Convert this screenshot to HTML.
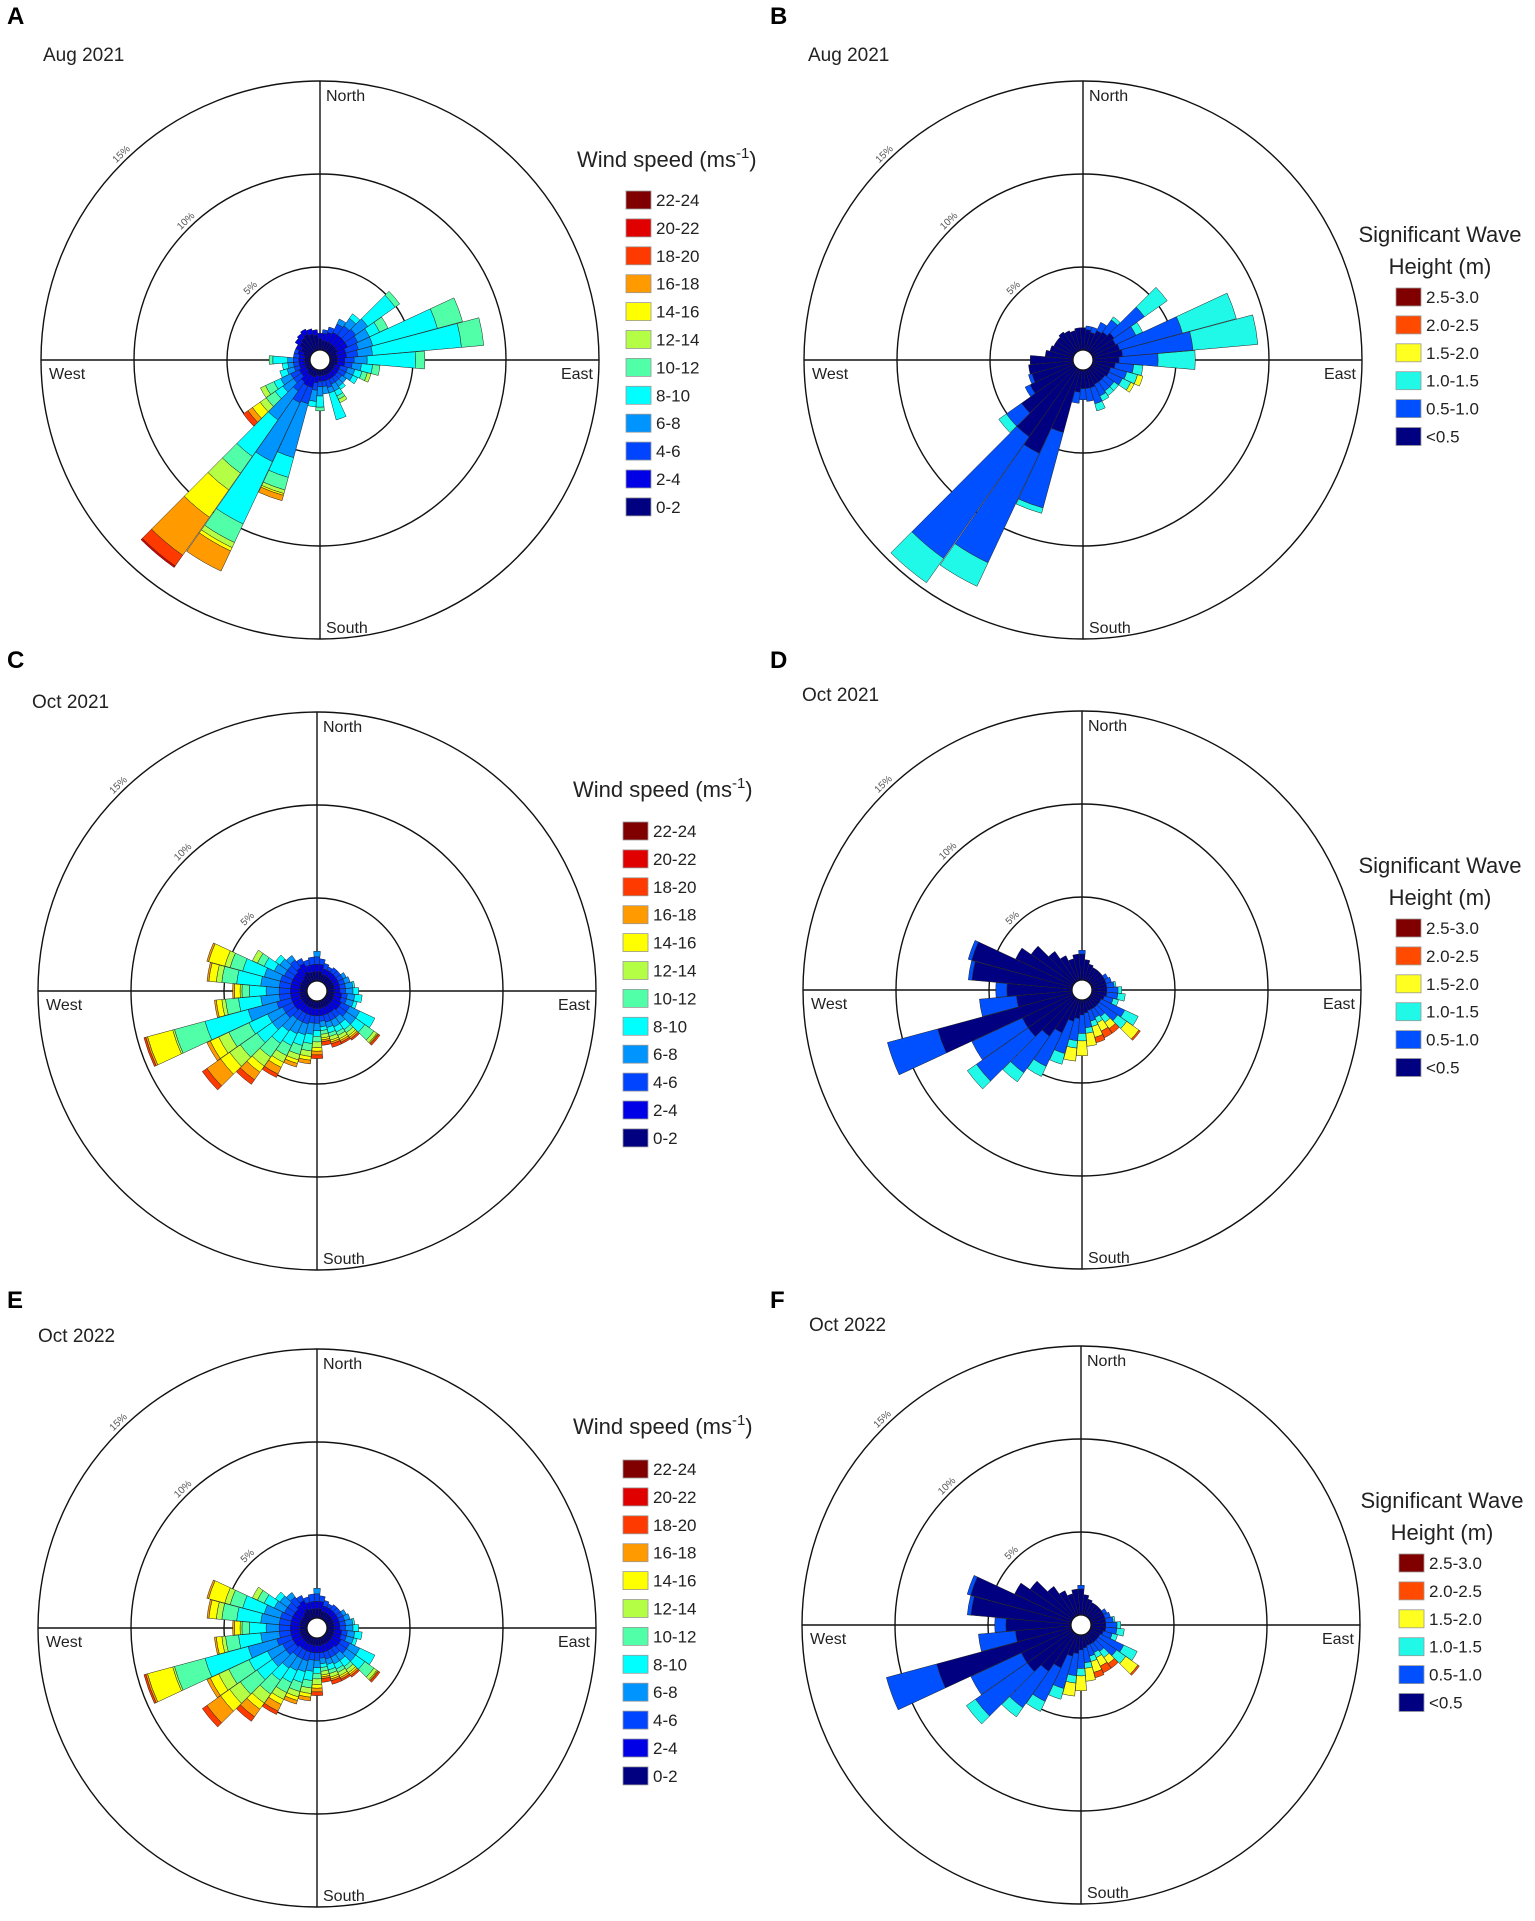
<!DOCTYPE html>
<html><head><meta charset="utf-8"><style>
html,body{margin:0;padding:0;background:#fff}
svg{display:block;font-family:"Liberation Sans",sans-serif}
</style></head><body>
<svg id="fig" width="1535" height="1921" viewBox="0 0 1535 1921" xmlns="http://www.w3.org/2000/svg"></svg>
<script>
const dirs = [0,10,20,30,40,50,60,70,80,90,100,110,120,130,140,150,160,170,180,190,200,210,220,230,240,250,260,270,280,290,300,310,320,330,340,350];
const windClasses = ["0-2","2-4","4-6","6-8","8-10","10-12","12-14","14-16","16-18","18-20","20-22","22-24"];
const windColors = ["#000080","#0000e6","#0044ff","#0094ff","#00ffff","#50ffa8","#b4ff46","#ffff00","#ff9a00","#ff3a00","#e00000","#800000"];
const waveClasses = ["<0.5","0.5-1.0","1.0-1.5","1.5-2.0","2.0-2.5","2.5-3.0"];
const waveColors = ["#000080","#0050ff","#20f8e8","#ffff20","#ff4a00","#800000"];
const ringTicks = [5,10,15];
const ringLabels = ["5%","10%","15%"];

const windA = [[0.6,0.3],[0.5,0.4,0.2],[0.5,0.5,0.3],[0.5,0.6,0.5,0.3],[0.5,0.6,0.6,0.5,0.3],[0.5,0.6,0.7,0.8,1.8,0.3],[0.5,0.6,0.6,0.7,0.6,0.5],[0.4,0.5,0.7,0.8,3.6,1.4],[0.4,0.5,0.6,0.8,4.8,1.2],[0.4,0.4,0.5,0.7,2.6,0.5],[0.4,0.4,0.4,0.5,0.6,0.4],[0.3,0.3,0.4,0.4,0.4,0.3,0.2],[0.3,0.3,0.4,0.4,0.3],[0.3,0.3,0.3,0.3],[0.3,0.3,0.3,0.3,0.2],[0.3,0.3,0.3,0.4,0.3,0.2,0.2],[0.3,0.3,0.4,0.3,1.5],[0.3,0.3,0.3,0.4],[0.3,0.3,0.3,0.5,0.6,0.2],[0.3,0.4,0.4,0.6,0.3],[0.4,0.6,0.9,3.0,1.1,0.7,0.2,0.1,0.3],[0.4,0.6,1.0,3.5,3.7,1.1,0.3,0.2,1.2],[0.4,0.5,0.6,1.9,2.4,1.1,1.1,1.8,2.5,0.7,0.1],[0.3,0.4,0.5,0.7,0.5,0.6,0.4,0.5,0.3,0.3],[0.3,0.4,0.5,0.6,0.4,0.5,0.3],[0.3,0.3,0.3,0.4,0.4],[0.3,0.3,0.3,0.3,0.3],[0.3,0.3,0.3,0.3,0.8,0.2],[0.3,0.3,0.3],[0.4,0.3,0.2],[0.6,0.3],[0.8,0.3],[0.9,0.3],[1.0,0.3],[0.9,0.3],[0.8,0.3]];
const waveB = [[1.2],[1.1,0.2],[1.0,0.3],[1.2,0.5],[1.3,0.8,0.2],[1.5,2.0,1.5],[1.4,1.2,0.4],[1.5,3.5,3.0],[1.6,3.8,3.5],[1.4,2.1,2.0],[1.2,1.0,0.5],[1.0,0.9,0.6,0.3],[1.0,0.8,0.5,0.2],[0.9,0.6,0.3],[0.9,0.6,0.3],[0.9,0.7,0.3],[1.0,0.9,0.4],[1.0,0.7],[1.0,0.6],[1.2,0.6],[3.5,4.2,0.3],[5.0,6.5,1.4],[4.5,8.0,1.6],[3.5,1.0,0.5],[2.6,0.3],[2.3,0.2],[2.4],[2.3],[1.5],[1.3],[1.2],[1.2],[1.3],[1.2],[1.1],[1.2]];
const windC = [[0.5,0.4,0.4,0.3],[0.5,0.4,0.3],[0.4,0.3,0.3],[0.4,0.3,0.2],[0.4,0.3,0.3],[0.4,0.3,0.3],[0.4,0.3,0.3,0.2],[0.4,0.3,0.3,0.3],[0.4,0.3,0.3,0.4,0.1],[0.4,0.3,0.3,0.4,0.3],[0.4,0.4,0.3,0.4,0.4],[0.4,0.4,0.3,0.4,0.2],[0.4,0.5,0.5,0.6,0.9],[0.4,0.5,0.5,0.6,0.6,0.6,0.2,0.05,0.05,0.1],[0.4,0.4,0.4,0.4,0.4,0.2,0.2,0.1,0.1,0.1],[0.4,0.4,0.4,0.4,0.3,0.2,0.2,0.1,0.1,0.1],[0.4,0.4,0.4,0.3,0.3,0.2,0.2,0.1,0.1,0.2],[0.4,0.4,0.3,0.3,0.2,0.2,0.2,0.1,0.1,0.2],[0.4,0.4,0.4,0.4,0.3,0.3,0.3,0.2,0.2,0.2],[0.4,0.4,0.4,0.6,0.5,0.4,0.3,0.2,0.2],[0.4,0.4,0.5,0.6,0.6,0.5,0.3,0.2,0.2],[0.4,0.4,0.5,0.7,0.7,0.6,0.4,0.3,0.4,0.2],[0.4,0.4,0.5,0.8,0.8,0.9,0.6,0.4,0.5,0.3],[0.4,0.5,0.6,0.9,1.0,1.1,0.7,0.6,0.9,0.3],[0.4,0.5,0.6,0.9,1.1,1.2,0.6,0.5,0.2],[0.4,0.5,0.8,1.6,2.4,1.7,0.1,1.4,0.1,0.1],[0.4,0.5,0.6,1.0,1.2,0.7,0.2,0.3,0.1],[0.4,0.5,0.6,0.7,0.9,0.4,0.1,0.3,0.1],[0.4,0.5,0.6,1.0,1.3,0.8,0.3,0.4,0.1],[0.4,0.5,0.6,0.9,1.2,0.7,0.3,0.9,0.1],[0.4,0.5,0.5,0.6,0.6,0.4,0.3],[0.4,0.5,0.5,0.5,0.3],[0.5,0.5,0.5,0.3],[0.6,0.5,0.3],[0.5,0.4,0.3],[0.5,0.4,0.4]];
const waveD = [[1.4,0.2],[1.1],[0.9],[0.8],[0.8],[0.8],[0.8,0.2],[0.8,0.3],[0.8,0.4,0.1],[0.8,0.6,0.2],[0.8,0.6,0.4],[0.7,0.5,0.3],[0.6,1.4,0.8],[0.6,1.2,0.6,0.8,0.1],[0.6,0.6,0.4,0.4,0.3],[0.6,0.5,0.3,0.5,0.4],[0.6,0.6,0.3,0.6,0.3],[0.7,0.8,0.3,0.7],[0.8,1.0,0.4,0.8],[1.0,1.2,0.4,0.7],[1.2,1.8,0.6],[2.0,2.0,0.6],[2.5,2.4,0.6],[3.0,3.4,0.6],[3.0,3.0],[7.5,2.8],[3.0,2.0],[3.5,0.6],[5.4,0.2],[5.6,0.2],[3.4],[2.8],[2.0],[1.5],[1.2],[1.4]];
const windE = [[0.5,0.4,0.4,0.3],[0.5,0.4,0.3],[0.4,0.3,0.3],[0.4,0.3,0.2],[0.4,0.3,0.3],[0.4,0.3,0.3],[0.4,0.3,0.3,0.2],[0.4,0.3,0.3,0.3],[0.4,0.3,0.3,0.4,0.1],[0.4,0.3,0.3,0.4,0.3],[0.4,0.4,0.3,0.4,0.4],[0.4,0.4,0.3,0.4,0.2],[0.4,0.5,0.5,0.6,0.9],[0.4,0.5,0.5,0.6,0.6,0.6,0.2,0.05,0.05,0.1],[0.4,0.4,0.4,0.4,0.4,0.2,0.2,0.1,0.1,0.1],[0.4,0.4,0.4,0.4,0.3,0.2,0.2,0.1,0.1,0.1],[0.4,0.4,0.4,0.3,0.3,0.2,0.2,0.1,0.1,0.2],[0.4,0.4,0.3,0.3,0.2,0.2,0.2,0.1,0.1,0.2],[0.4,0.4,0.4,0.4,0.3,0.3,0.3,0.2,0.2,0.2],[0.4,0.4,0.4,0.6,0.5,0.4,0.3,0.2,0.2],[0.4,0.4,0.5,0.6,0.6,0.5,0.3,0.2,0.2],[0.4,0.4,0.5,0.7,0.7,0.6,0.4,0.3,0.4,0.2],[0.4,0.4,0.5,0.8,0.8,0.9,0.6,0.4,0.5,0.3],[0.4,0.5,0.6,0.9,1.0,1.1,0.7,0.6,0.9,0.3],[0.4,0.5,0.6,0.9,1.1,1.2,0.6,0.5,0.2],[0.4,0.5,0.8,1.6,2.4,1.7,0.1,1.4,0.1,0.1],[0.4,0.5,0.6,1.0,1.2,0.7,0.2,0.3,0.1],[0.4,0.5,0.6,0.7,0.9,0.4,0.1,0.3,0.1],[0.4,0.5,0.6,1.0,1.3,0.8,0.3,0.4,0.1],[0.4,0.5,0.6,0.9,1.2,0.7,0.3,0.9,0.1],[0.4,0.5,0.5,0.6,0.6,0.4,0.3],[0.4,0.5,0.5,0.5,0.3],[0.5,0.5,0.5,0.3],[0.6,0.5,0.3],[0.5,0.4,0.3],[0.5,0.4,0.4]];
const waveF = [[1.4,0.2],[1.1],[0.9],[0.8],[0.8],[0.8],[0.8,0.2],[0.8,0.3],[0.8,0.4,0.1],[0.8,0.6,0.2],[0.8,0.6,0.4],[0.7,0.5,0.3],[0.6,1.4,0.8],[0.6,1.2,0.6,0.8,0.1],[0.6,0.6,0.4,0.4,0.3],[0.6,0.5,0.3,0.5,0.4],[0.6,0.6,0.3,0.6,0.3],[0.7,0.8,0.3,0.7],[0.8,1.0,0.4,0.8],[1.0,1.2,0.4,0.7],[1.2,1.8,0.6],[2.0,2.0,0.6],[2.5,2.4,0.6],[3.0,3.4,0.6],[3.0,3.0],[7.5,2.8],[3.0,2.0],[3.5,0.6],[5.4,0.2],[5.6,0.2],[3.4],[2.8],[2.0],[1.5],[1.2],[1.4]];

const NS="http://www.w3.org/2000/svg";
const svg=document.getElementById('fig');
function mk(tag,attrs,parent){const e=document.createElementNS(NS,tag);for(const k in attrs)e.setAttribute(k,attrs[k]);(parent||svg).appendChild(e);return e;}
const PX=18.6, HOLE=10, R=279;
function rScale(p){return HOLE+p*PX;}
function ringR(t){return t*PX;}
function pt(cx,cy,r,deg){const a=deg*Math.PI/180;return [cx+r*Math.sin(a),cy-r*Math.cos(a)];}
function sector(cx,cy,r0,r1,d){const a0=d-4.9,a1=d+4.9;const p1=pt(cx,cy,r0,a0),p2=pt(cx,cy,r1,a0),p3=pt(cx,cy,r1,a1),p4=pt(cx,cy,r0,a1);
return `M${p1[0]},${p1[1]}L${p2[0]},${p2[1]}A${r1},${r1} 0 0 1 ${p3[0]},${p3[1]}L${p4[0]},${p4[1]}A${r0},${r0} 0 0 0 ${p1[0]},${p1[1]}Z`;}

function drawPanel(p){
  const g=mk('g',{});
  
  
  const lt=mk('text',{x:p.lx,y:p.ly,'font-size':24,'font-weight':'bold'},g);
  lt.textContent=p.letter;
  
  
  const tt=mk('text',{x:p.tx,y:p.ty,'font-size':19,fill:'#222'},g);tt.textContent=p.title;
  
  
  const cx=p.cx,cy=p.cy;
  ringTicks.forEach((t,i)=>{
    const rr=ringR(t);
    const c=mk('circle',{cx:cx,cy:cy,r:rr,fill:'none',stroke:'#111','stroke-width':1.4},g);
    
    
    const q=pt(cx,cy,rr+4,-44);
    const lb=mk('text',{x:q[0],y:q[1],'font-size':10,fill:'#555','text-anchor':'middle',transform:`rotate(-44 ${q[0]} ${q[1]})`},g);lb.textContent=ringLabels[i];
    
    
  });
  const l1=mk('line',{x1:cx,y1:cy-R,x2:cx,y2:cy+R,stroke:'#111','stroke-width':1.4},g);
  
  const l2=mk('line',{x1:cx-R,y1:cy,x2:cx+R,y2:cy,stroke:'#111','stroke-width':1.4},g);
  
  const labs=[["North",cx+6,cy-R+20,'start'],["South",cx+6,cy+R-6,'start'],["West",cx-R+8,cy+19,'start'],["East",cx+R-6,cy+19,'end']];
  labs.forEach(L=>{const t=mk('text',{x:L[1],y:L[2],'font-size':16,fill:'#222','text-anchor':L[3]},g);t.textContent=L[0];
    });
  p.data.forEach((segs,i)=>{
    let cum=0;
    segs.forEach((v,k)=>{
      const path=mk('path',{d:sector(cx,cy,rScale(cum),rScale(cum+v),dirs[i]),fill:p.colors[k],stroke:'#222','stroke-width':0.5},g);
      
      
      cum+=v;
    });
  });
  const hole=mk('circle',{cx:cx,cy:cy,r:HOLE,fill:'#fff',stroke:'#111','stroke-width':1.2},g);
  
  const lg=mk('g',{},g);
  
  if(p.kind==='wind'){
    const t=mk('text',{x:p.lgx,y:p.lgty,'font-size':22,fill:'#222'},lg);
    t.innerHTML='Wind speed (ms<tspan dy="-9" font-size="15">-1</tspan><tspan dy="9">)</tspan>';
    
  } else {
    ["Significant Wave","Height (m)"].forEach((s,j)=>{const t=mk('text',{x:p.lgx,y:p.lgty+j*32,'font-size':22,fill:'#222','text-anchor':'middle'},lg);t.textContent=s;
      });
  }
  const n=p.classes.length;
  for(let j=0;j<n;j++){
    const k=n-1-j, y=p.lby+j*27.9;
    const r=mk('rect',{x:p.lbx,y:y-9,width:25,height:18,fill:p.colors[k],stroke:'#999','stroke-width':0.8},lg);
    
    const t=mk('text',{x:p.lbx+30,y:y+6,'font-size':17,fill:'#222'},lg);t.textContent=p.classes[k];
    
  }
}
const wind={kind:'wind',classes:windClasses,colors:windColors};
const wave={kind:'wave',classes:waveClasses,colors:waveColors};
drawPanel(Object.assign({letter:'A',lx:7,ly:24,title:'Aug 2021',tx:43,ty:61,cx:320,cy:360,data:windA,lgx:577,lgty:167,lbx:626,lby:200},wind));
drawPanel(Object.assign({letter:'B',lx:770,ly:24,title:'Aug 2021',tx:808,ty:61,cx:1083,cy:360,data:waveB,lgx:1440,lgty:242,lbx:1396,lby:297},wave));
drawPanel(Object.assign({letter:'C',lx:7,ly:668,title:'Oct 2021',tx:32,ty:708,cx:317,cy:991,data:windC,lgx:573,lgty:797,lbx:623,lby:831},wind));
drawPanel(Object.assign({letter:'D',lx:770,ly:668,title:'Oct 2021',tx:802,ty:701,cx:1082,cy:990,data:waveD,lgx:1440,lgty:873,lbx:1396,lby:928},wave));
drawPanel(Object.assign({letter:'E',lx:7,ly:1308,title:'Oct 2022',tx:38,ty:1342,cx:317,cy:1628,data:windE,lgx:573,lgty:1434,lbx:623,lby:1469},wind));
drawPanel(Object.assign({letter:'F',lx:770,ly:1308,title:'Oct 2022',tx:809,ty:1331,cx:1081,cy:1625,data:waveF,lgx:1442,lgty:1508,lbx:1399,lby:1563},wave));
</script>
</body></html>
